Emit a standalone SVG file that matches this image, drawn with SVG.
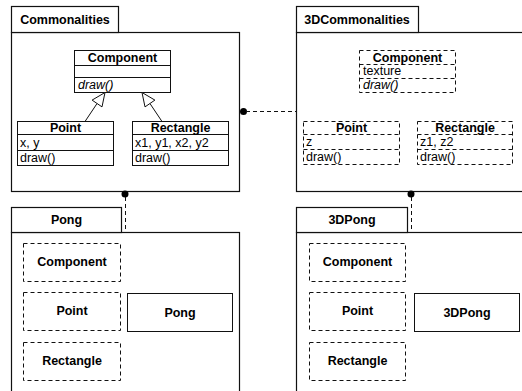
<svg xmlns="http://www.w3.org/2000/svg" width="522" height="391" viewBox="0 0 522 391">
<style>
.pkg{fill:#fff;stroke:#111;stroke-width:1.2}
.cls{fill:#fff;stroke:#111;stroke-width:1}
.dcls{fill:#fff;stroke:#111;stroke-width:1;stroke-dasharray:4 3}
.dl{stroke:#111;stroke-width:1;stroke-dasharray:4 3;fill:none}
.sl{stroke:#111;stroke-width:1;fill:none}
.t{font-family:"Liberation Sans",Arial,sans-serif;font-size:12.5px;fill:#000}
.b{font-weight:bold}
.c{text-anchor:middle}
.i{font-style:italic}
</style>
<rect width="522" height="391" fill="#fff"/>
<g id="Commonalities">
<rect class="pkg" x="11.5" y="32.5" width="228" height="159"/>
<rect class="pkg" x="11.5" y="6.5" width="107" height="26"/>
<text class="t b c" x="65" y="24">Commonalities</text>
</g>
<g id="Commonalities-Component">
<rect class="cls" x="74.5" y="50.5" width="96" height="42"/>
<line class="sl" x1="74.5" y1="65.5" x2="170.5" y2="65.5"/>
<line class="sl" x1="74.5" y1="77.5" x2="170.5" y2="77.5"/>
<text class="t b c" x="122.5" y="62">Component</text>
<text class="t i" x="78" y="89">draw()</text>
</g>
<g id="Commonalities-Point">
<rect class="cls" x="17.5" y="121.5" width="96" height="44"/>
<line class="sl" x1="17.5" y1="134.5" x2="113.5" y2="134.5"/>
<line class="sl" x1="17.5" y1="150.5" x2="113.5" y2="150.5"/>
<text class="t b c" x="65.5" y="132">Point</text>
<text class="t" x="20" y="147">x, y</text>
<text class="t" x="20" y="162">draw()</text>
</g>
<g id="Commonalities-Rectangle">
<rect class="cls" x="132.5" y="121.5" width="96" height="44"/>
<line class="sl" x1="132.5" y1="134.5" x2="228.5" y2="134.5"/>
<line class="sl" x1="132.5" y1="150.5" x2="228.5" y2="150.5"/>
<text class="t b c" x="180.5" y="132">Rectangle</text>
<text class="t" x="135" y="147">x1, y1, x2, y2</text>
<text class="t" x="135" y="162">draw()</text>
</g>
<g id="ThreeDCommonalities">
<rect class="pkg" x="296.5" y="32.5" width="240" height="159"/>
<rect class="pkg" x="296.5" y="6.5" width="122" height="26"/>
<text class="t b c" x="357" y="24">3DCommonalities</text>
</g>
<g id="ThreeD-Component">
<rect class="dcls" x="359.5" y="50.5" width="96" height="42"/>
<line class="dl" x1="359.5" y1="64.5" x2="455.5" y2="64.5"/>
<line class="dl" x1="359.5" y1="78.5" x2="455.5" y2="78.5"/>
<text class="t b c" x="407.5" y="62">Component</text>
<text class="t" x="363" y="75">texture</text>
<text class="t i" x="363" y="89">draw()</text>
</g>
<g id="ThreeD-Point">
<rect class="dcls" x="303.5" y="121.5" width="96" height="43"/>
<line class="dl" x1="303.5" y1="134.5" x2="399.5" y2="134.5"/>
<line class="dl" x1="303.5" y1="149.5" x2="399.5" y2="149.5"/>
<text class="t b c" x="351.5" y="132">Point</text>
<text class="t" x="306" y="146">z</text>
<text class="t" x="306" y="161">draw()</text>
</g>
<g id="ThreeD-Rectangle">
<rect class="dcls" x="417.5" y="121.5" width="95" height="43"/>
<line class="dl" x1="417.5" y1="134.5" x2="512.5" y2="134.5"/>
<line class="dl" x1="417.5" y1="149.5" x2="512.5" y2="149.5"/>
<text class="t b c" x="465" y="132">Rectangle</text>
<text class="t" x="420" y="146">z1, z2</text>
<text class="t" x="420" y="161">draw()</text>
</g>
<g id="Pong">
<rect class="pkg" x="11.5" y="232.5" width="228" height="170"/>
<rect class="pkg" x="11.5" y="207.5" width="110" height="25"/>
<text class="t b c" x="66.5" y="224">Pong</text>
</g>
<g id="Pong-Component"><rect class="dcls" x="23.5" y="243.5" width="97" height="38"/><text class="t b c" x="72" y="266">Component</text></g>
<g id="Pong-Point"><rect class="dcls" x="23.5" y="292.5" width="97" height="38"/><text class="t b c" x="72" y="315">Point</text></g>
<g id="Pong-Rectangle"><rect class="dcls" x="23.5" y="342.5" width="97" height="38"/><text class="t b c" x="72" y="365">Rectangle</text></g>
<g id="Pong-Pong"><rect class="cls" x="127.5" y="293.5" width="105" height="38"/><text class="t b c" x="180" y="317">Pong</text></g>
<g id="ThreeDPong">
<rect class="pkg" x="296.5" y="232.5" width="240" height="170"/>
<rect class="pkg" x="296.5" y="207.5" width="111" height="25"/>
<text class="t b c" x="352" y="224">3DPong</text>
</g>
<g id="ThreeDPong-Component"><rect class="dcls" x="309.5" y="243.5" width="96" height="38"/><text class="t b c" x="357.5" y="266">Component</text></g>
<g id="ThreeDPong-Point"><rect class="dcls" x="309.5" y="292.5" width="96" height="38"/><text class="t b c" x="357.5" y="315">Point</text></g>
<g id="ThreeDPong-Rectangle"><rect class="dcls" x="309.5" y="342.5" width="96" height="38"/><text class="t b c" x="357.5" y="365">Rectangle</text></g>
<g id="ThreeDPong-3DPong"><rect class="cls" x="414.5" y="293.5" width="105" height="38"/><text class="t b c" x="467" y="317">3DPong</text></g>
<g id="connectors">
<line class="sl" x1="85" y1="121.5" x2="97.05" y2="103.5"/>
<polygon class="cls" points="105,92.5 102,106.9 92.1,100.1"/>
<line class="sl" x1="162" y1="121.5" x2="149.95" y2="103.5"/>
<polygon class="cls" points="142,92.5 154.9,100.1 145,106.9"/>
<circle cx="243.5" cy="111.5" r="3.5" fill="#000"/>
<line class="dl" x1="246" y1="111.5" x2="296" y2="111.5"/>
<circle cx="125" cy="194" r="3.5" fill="#000"/>
<line class="dl" x1="125.5" y1="197" x2="125.5" y2="232"/>
<circle cx="411" cy="194" r="3.5" fill="#000"/>
<line class="dl" x1="411.5" y1="197" x2="411.5" y2="232"/>
</g>
</svg>
